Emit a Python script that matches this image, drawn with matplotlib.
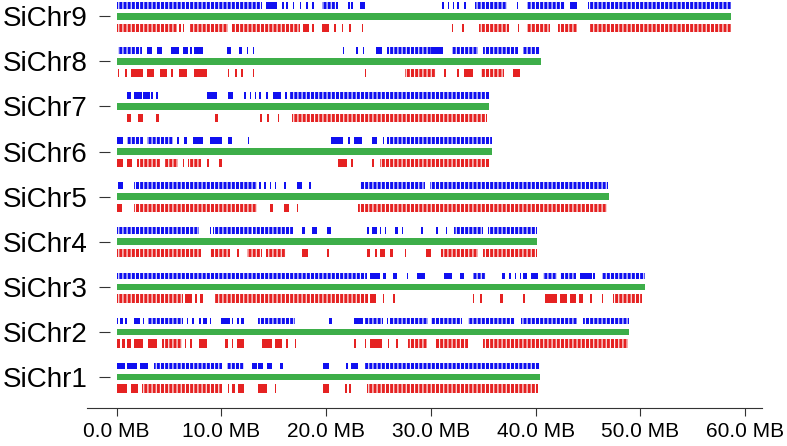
import matplotlib
matplotlib.use('Agg')
import matplotlib.pyplot as plt

plt.rcParams['font.family'] = ['Liberation Sans', 'DejaVu Sans']
plt.rcParams['hatch.linewidth'] = 0.8

chrom_names = ['SiChr1', 'SiChr2', 'SiChr3', 'SiChr4', 'SiChr5',
               'SiChr6', 'SiChr7', 'SiChr8', 'SiChr9']
chrom_lengths = [40.4, 48.9, 50.4, 40.1, 47.0, 35.8, 35.6, 40.5, 58.7]

# feature blocks (start, end) in MB; a single mark has start == end
blue_chr1 = [(0, 0.8), (1.0, 1.9), (2.2, 3.0), (3.6, 10.1), (10.5, 12.2), (12.9, 13.4),
             (13.5, 14.0), (14.4, 14.8), (15.6, 15.9), (19.7, 20.3), (21.9, 22.0),
             (22.4, 23.0), (23.7, 40.4)]
red_chr1 = [(0, 1.0), (1.4, 2.0), (2.4, 10.1), (10.6, 10.6), (11.0, 11.3), (11.6, 12.2),
            (13.5, 14.4), (15.1, 15.1), (19.7, 20.3), (21.8, 21.8), (22.2, 22.2), (23.9, 40.2)]

blue_chr2 = [(0, 0.1), (0.3, 0.6), (0.8, 0.8), (1.7, 2.2), (2.5, 2.5), (3.0, 6.3), (6.7, 6.7),
             (7.2, 7.4), (7.9, 7.9), (8.2, 8.6), (8.9, 8.9), (10.0, 10.8), (11.0, 11.0),
             (11.5, 11.5), (11.9, 12.2), (13.5, 17.0), (20.3, 20.6), (22.7, 23.5), (23.7, 25.4),
             (25.8, 25.8), (26.1, 26.1), (26.3, 29.7), (30.0, 33.0), (33.5, 38.0), (38.6, 44.0),
             (44.5, 48.9)]
red_chr2 = [(0, 0.3), (0.5, 0.8), (1.0, 1.4), (1.7, 2.5), (3.0, 3.9), (4.3, 6.2), (6.5, 6.5),
            (7.0, 7.0), (7.9, 8.6), (10.3, 10.6), (11.0, 11.0), (11.5, 12.2), (13.9, 14.8),
            (15.1, 15.8), (16.2, 16.2), (17.0, 17.0), (22.7, 22.7), (23.7, 23.7), (24.2, 25.3),
            (25.9, 25.9), (26.7, 26.7), (27.8, 29.6), (30.5, 33.5), (35.0, 48.8)]

blue_chr3 = [(0, 23.9), (24.2, 25.1), (25.4, 25.7), (26.4, 26.8), (27.7, 27.7), (28.7, 29.4),
             (31.3, 32.0), (32.8, 33.2), (34.0, 35.3), (36.8, 37.1), (37.5, 37.5), (38.0, 38.0),
             (38.5, 38.5), (38.8, 39.2), (39.6, 40.2), (40.7, 42.0), (42.3, 43.9), (44.2, 45.4),
             (45.5, 45.5), (46.3, 50.4)]
red_chr3 = [(0, 6.3), (6.5, 7.2), (7.5, 7.7), (8.0, 8.2), (9.4, 24.0), (24.2, 24.8), (25.4, 25.4),
            (26.4, 26.4), (34.0, 34.0), (34.7, 34.7), (36.6, 36.9), (38.8, 39.0), (40.9, 42.0),
            (42.3, 43.0), (43.3, 43.9), (44.1, 44.5), (45.2, 45.2), (46.3, 46.3), (47.4, 50.2)]

blue_chr4 = [(0, 7.9), (8.9, 8.9), (9.2, 12.9), (13.0, 16.8), (17.7, 18.0), (18.7, 19.1),
             (20.1, 20.5), (23.9, 23.9), (24.4, 24.9), (25.1, 25.1), (25.6, 25.6), (26.6, 26.9),
             (27.2, 27.2), (29.1, 29.1), (30.5, 30.5), (31.4, 31.4), (32.2, 35.0), (35.5, 40.1)]
red_chr4 = [(0, 8.1), (8.9, 10.8), (11.5, 11.5), (12.4, 13.9), (14.3, 16.2), (17.7, 18.3),
            (20.1, 20.1), (23.9, 24.2), (24.7, 24.7), (25.1, 25.6), (26.1, 26.4), (27.5, 27.5),
            (29.5, 30.0), (31.0, 34.5), (35.0, 40.1)]

blue_chr5 = [(0.1, 0.6), (1.7, 13.4), (13.6, 13.6), (14.1, 14.1), (14.6, 14.6), (15.1, 15.1),
             (16.0, 16.0), (17.2, 17.7), (18.4, 18.4), (23.2, 29.4), (29.9, 46.9)]
red_chr5 = [(0, 0.5), (1.7, 13.4), (14.6, 14.9), (16.0, 16.5), (17.2, 17.3), (23.0, 46.8)]

blue_chr6 = [(0, 0.6), (1.0, 2.5), (2.9, 5.4), (5.8, 5.8), (6.4, 6.7), (7.3, 8.2), (8.9, 10.1),
             (10.6, 11.0), (12.5, 12.5), (20.5, 21.6), (22.1, 22.1), (22.7, 23.4), (24.4, 24.9),
             (25.4, 25.4), (25.8, 35.8)]
red_chr6 = [(0, 0.6), (1.0, 1.5), (1.9, 4.1), (4.6, 5.9), (6.3, 6.3), (6.8, 8.1), (8.6, 8.8),
            (9.8, 10.1), (21.1, 22.0), (22.4, 22.4), (24.4, 24.4), (25.1, 35.6)]

blue_chr7 = [(1.0, 1.4), (1.7, 2.4), (2.5, 3.2), (3.3, 3.5), (3.8, 3.9), (8.6, 9.6), (10.6, 11.1),
             (12.2, 12.2), (12.7, 12.7), (13.2, 13.2), (13.6, 13.6), (14.3, 14.3), (14.9, 15.7),
             (16.1, 16.1), (16.5, 35.6)]
red_chr7 = [(1.0, 1.4), (2.0, 2.5), (3.8, 4.0), (9.4, 9.7), (13.7, 13.7), (14.4, 14.4),
            (15.4, 15.4), (16.7, 35.4)]

blue_chr8 = [(0.1, 2.4), (2.9, 3.4), (3.9, 4.3), (5.2, 6.0), (6.3, 6.8), (7.0, 7.0), (7.4, 8.2),
             (10.5, 10.9), (11.7, 12.0), (12.4, 12.5), (13.0, 13.0), (21.6, 21.6), (22.9, 22.9),
             (23.5, 23.5), (24.8, 25.3), (25.8, 30.0), (30.0, 31.2), (32.0, 34.5), (35.0, 38.3),
             (38.8, 40.4)]
red_chr8 = [(0.1, 0.1), (0.8, 0.8), (1.4, 2.5), (2.9, 3.6), (4.1, 4.8), (5.2, 5.2), (6.0, 6.7),
            (7.4, 8.6), (10.6, 10.6), (11.3, 11.3), (11.9, 11.9), (13.0, 13.0), (23.7, 23.7),
            (27.5, 30.5), (31.3, 31.3), (32.5, 32.5), (33.2, 34.0), (34.8, 37.0), (37.8, 38.5)]

blue_chr9 = [(0, 13.9), (14.3, 15.3), (15.8, 15.8), (16.2, 16.2), (16.8, 16.8), (17.5, 17.5),
             (18.1, 18.1), (18.7, 18.7), (19.6, 21.1), (22.1, 22.1), (22.4, 22.4), (23.2, 23.7),
             (31.1, 31.1), (31.6, 31.6), (32.1, 32.1), (32.5, 32.5), (33.2, 33.2), (34.2, 37.3),
             (38.2, 38.2), (39.2, 42.8), (43.3, 44.0), (45.0, 58.7)]
red_chr9 = [(0, 5.8), (6.0, 6.0), (6.3, 6.3), (7.0, 10.6), (11.0, 13.7), (13.7, 17.5),
            (17.8, 18.4), (18.7, 18.7), (19.6, 20.3), (20.8, 20.8), (21.5, 21.5), (22.2, 22.2),
            (23.4, 23.4), (32.0, 32.0), (33.0, 33.0), (34.6, 37.5), (38.3, 38.3), (39.2, 41.4),
            (42.1, 44.0), (45.2, 58.7)]

blue_tracks = [blue_chr1, blue_chr2, blue_chr3, blue_chr4, blue_chr5,
               blue_chr6, blue_chr7, blue_chr8, blue_chr9]
red_tracks = [red_chr1, red_chr2, red_chr3, red_chr4, red_chr5,
              red_chr6, red_chr7, red_chr8, red_chr9]

x_ticks = [0, 10, 20, 30, 40, 50, 60]
x_labels = ['0.0 MB', '10.0 MB', '20.0 MB', '30.0 MB', '40.0 MB', '50.0 MB', '60.0 MB']

GREEN = '#3dae49'
BLUE = '#1010f0'
RED = '#e52222'


def draw_track(ax, blocks, y0, h, color):
    thin = []
    dense = []
    for s, e in blocks:
        w = max(e - s, 0.15)
        if w > 1.2:
            dense.append((s, w))
        else:
            thin.append((s, w))
    ax.broken_barh(thin, (y0, h), facecolor=color, linewidth=0)
    ax.broken_barh(dense, (y0, h), facecolor=color, edgecolor='white',
                   linewidth=0, hatch='||||')


fig = plt.figure(figsize=(7.87, 4.46), dpi=100)
ax = fig.add_axes([0.11, 0.085, 0.858, 0.915])

for s in ['top', 'right', 'left']:
    ax.spines[s].set_visible(False)
# y ticks sit a little right of where the bottom axis line starts
ax.spines['left'].set_position(('axes', 0.034))

for i, name in enumerate(chrom_names):
    y = i + 1
    ax.broken_barh([(0, chrom_lengths[i])], (y - 0.074, 0.148), facecolor=GREEN, linewidth=0)
    draw_track(ax, blue_tracks[i], y + 0.17, 0.147, BLUE)
    draw_track(ax, red_tracks[i], y - 0.348, 0.186, RED)

ax.set_xlim(-2.87, 61.6)
ax.set_ylim(0.313, 9.36)
ax.set_xticks(x_ticks)
ax.set_xticklabels(x_labels, fontsize=15)
ax.set_yticks(range(1, len(chrom_names) + 1))
ax.set_yticklabels(chrom_names, fontsize=20)

ax.spines['bottom'].set_color('#333333')
ax.tick_params(axis='y', length=8, pad=8, color='#333333')
ax.tick_params(axis='x', length=6, pad=4, color='#333333')

fig.savefig('out.png', dpi=100)
